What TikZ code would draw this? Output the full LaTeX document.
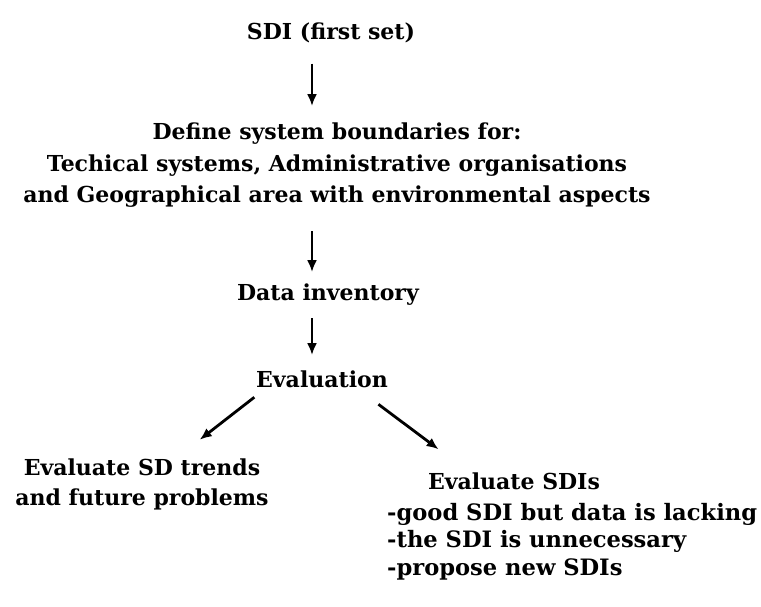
\documentclass[tikz,border=0pt]{standalone}
\usepackage{fontspec}
\setmainfont{DejaVu Serif}
\usepackage{tikz}
\usetikzlibrary{calc,arrows.meta,positioning}

\tikzset{
	lbl/.style={font=\fontsize{22}{31.5}\selectfont\bfseries, inner sep=3pt},
	arr/.style={-{Latex[length=12pt,width=10pt]}, line width=2.8pt}
}

\begin{document}
\begin{tikzpicture}[x=1pt,y=-1pt]
		\useasboundingbox (0,0) rectangle (761,607);
		\coordinate (spine) at (312,0);
		\node[lbl,anchor=base] (sdi) at (331,40) {SDI (first set)};
		\node[lbl,anchor=base,align=center] (bound) at (337,203) {Define system boundaries for:\\Techical systems, Administrative organisations\\and Geographical area with environmental aspects};
		\node[lbl,anchor=base] (inv) at (328,300) {Data inventory};
		\node[lbl,anchor=base] (eval) at (322,387) {Evaluation};
		\node[lbl,anchor=base,align=center,font=\fontsize{22}{30}\selectfont\bfseries] (trends) at (142,505) {Evaluate SD trends\\and future problems};
		\node[lbl,anchor=base] (sdis) at (514,489) {Evaluate SDIs};
		\node[lbl,anchor=base west,align=left,font=\fontsize{22.6}{27.5}\selectfont\bfseries] (lack) at (384,575) {-good SDI but data is lacking\\-the SDI is unnecessary\\-propose new SDIs};
		% down the middle
		\foreach \a/\b/\s/\t in {sdi/bound/17/14,bound/inv/20/8,inv/eval/10/12}
		\draw[arr,shorten <=\s pt,shorten >=\t pt] (\a.south -| spine) -- (\b.north -| spine);
		% the two branches
		\draw[arr,shorten <=11pt,shorten >=25pt] ([xshift=10pt]eval.south west) -- ([xshift=38pt]trends.north);
		\draw[arr,shorten <=23pt,shorten >=33pt] ([xshift=-31pt]eval.south east) -- ([xshift=-49pt]sdis.north);
	\end{tikzpicture}
\end{document}
